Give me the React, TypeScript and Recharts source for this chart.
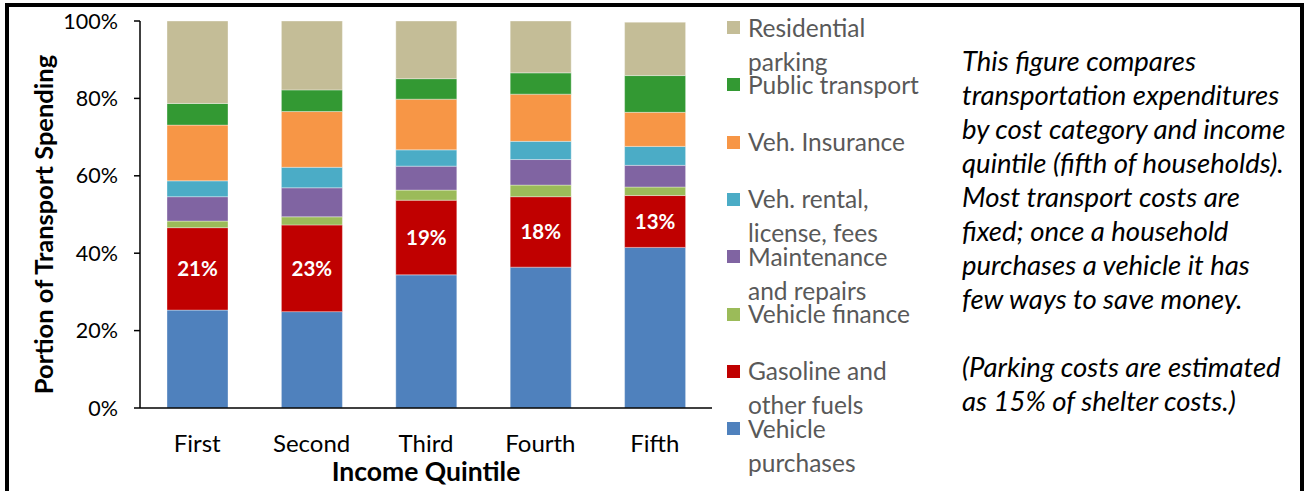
import { BarChart, Bar, XAxis, YAxis, Legend, LabelList } from 'recharts';

const quintiles = ['First', 'Second', 'Third', 'Fourth', 'Fifth'];

// share of transport spending (%) per quintile, bottom of stack first
const vehiclePurchases = [25.3, 24.9, 34.4, 36.4, 41.5];
const gasoline = [21.3, 22.4, 19.3, 18.2, 13.4];
const vehicleFinance = [1.7, 2.1, 2.6, 3.0, 2.2];
const maintenance = [6.3, 7.5, 6.2, 6.6, 5.6];
const rental = [4.1, 5.3, 4.2, 4.7, 4.9];
const insurance = [14.4, 14.4, 13.1, 12.2, 8.8];
const publicTransport = [5.6, 5.6, 5.3, 5.5, 9.5];
const parking = [21.3, 17.8, 14.9, 13.4, 13.8];

const gasLabels = ['21%', '23%', '19%', '18%', '13%'];
const yTicks = [0, 20, 40, 60, 80, 100];

const series = [
  { key: 'purchases', name: 'Vehicle purchases', color: '#4F81BD', values: vehiclePurchases, lines: ['Vehicle', 'purchases'] },
  { key: 'gasoline', name: 'Gasoline and other fuels', color: '#C00000', values: gasoline, lines: ['Gasoline and', 'other fuels'] },
  { key: 'finance', name: 'Vehicle finance', color: '#9BBB59', values: vehicleFinance, lines: ['Vehicle finance'] },
  { key: 'maintenance', name: 'Maintenance and repairs', color: '#8064A2', values: maintenance, lines: ['Maintenance', 'and repairs'] },
  { key: 'rental', name: 'Veh. rental, license, fees', color: '#4BACC6', values: rental, lines: ['Veh. rental,', 'license, fees'] },
  { key: 'insurance', name: 'Veh. Insurance', color: '#F79646', values: insurance, lines: ['Veh. Insurance'] },
  { key: 'publicTransport', name: 'Public transport', color: '#339933', values: publicTransport, lines: ['Public transport'] },
  { key: 'parking', name: 'Residential parking', color: '#C4BD97', values: parking, lines: ['Residential', 'parking'] },
];

const data = quintiles.map((q, i) => {
  const row: Record<string, string | number> = { quintile: q, gasLabel: gasLabels[i] };
  series.forEach((s) => {
    row[s.key] = s.values[i];
  });
  return row;
});

const noteLines = [
  'This figure compares',
  'transportation expenditures',
  'by cost category and income',
  'quintile (fifth of households).',
  'Most transport costs are',
  'fixed; once a household',
  'purchases a vehicle it has',
  'few ways to save money.',
  '',
  '(Parking costs are estimated',
  'as 15% of shelter costs.)',
];

const FONT = 'Lato, "Open Sans", sans-serif';

const renderLegend = () => {
  const items = [...series].reverse();
  return (
    <div style={{ position: 'relative', width: 200, height: 480, fontFamily: FONT }}>
      {items.map((s, i) => (
        <div key={s.key} style={{ position: 'absolute', left: 0, top: i * 57.3 }}>
          <div style={{ position: 'absolute', left: 7, top: 10, width: 13, height: 13, background: s.color }} />
          {s.lines.map((l, j) => (
            <div
              key={l}
              style={{
                position: 'absolute',
                left: 28,
                top: 5.5 + j * 34,
                height: 22,
                whiteSpace: 'nowrap',
                fontSize: 24.5,
                lineHeight: '22px',
                color: '#595959',
              }}
            >
              {l}
            </div>
          ))}
        </div>
      ))}
    </div>
  );
};

const YLabel = (props: any) => {
  const { viewBox } = props;
  const x = viewBox.x + 43;
  const y = viewBox.y + viewBox.height / 2 + 10;
  return (
    <text
      transform={`translate(${x},${y}) rotate(-90)`}
      textAnchor="middle"
      dominantBaseline="central"
      fontFamily={FONT}
      fontWeight={700}
      fontSize={25.5}
      fill="#000"
    >
      Portion of Transport Spending
    </text>
  );
};

export default function App() {
  return (
    <div style={{ position: 'fixed', left: 0, top: 0, width: 1308, height: 491, background: '#fff', overflow: 'hidden' }}>
      <div
        style={{
          position: 'absolute',
          left: 5,
          top: 3,
          width: 1291,
          height: 500,
          borderTop: '4px solid #000',
          borderLeft: '4px solid #000',
          borderRight: '4px solid #000',
        }}
      />
      <BarChart
        width={1308}
        height={491}
        data={data}
        margin={{ top: 21, right: 596, bottom: 0, left: 0 }}
        barSize={61}
        style={{ position: 'absolute', left: 0, top: 0 }}
      >
        <XAxis
          dataKey="quintile"
          height={83}
          tickLine={false}
          tickSize={0}
          tickMargin={27}
          axisLine={{ stroke: '#000', strokeWidth: 1.5 }}
          tick={{ fill: '#000', fontSize: 24, fontFamily: FONT }}
          label={{ value: 'Income Quintile', position: 'insideBottom', offset: 10, fill: '#000', fontSize: 26.5, fontWeight: 700, fontFamily: FONT }}
        />
        <YAxis
          width={140}
          domain={[0, 100]}
          ticks={yTicks}
          tickFormatter={(v: number) => `${v}%`}
          tickSize={6}
          tickMargin={16}
          axisLine={{ stroke: '#000', strokeWidth: 1.5 }}
          tickLine={{ stroke: '#000', strokeWidth: 1.5 }}
          tick={{ fill: '#000', fontSize: 21.5, fontFamily: FONT }}
          label={<YLabel />}
        />
        <Legend
          layout="vertical"
          align="center"
          verticalAlign="middle"
          content={renderLegend}
          wrapperStyle={{ position: 'absolute', left: 720, top: 11, width: 200, height: 480 }}
        />
        {series.map((s) => (
          <Bar
            key={s.key}
            dataKey={s.key}
            name={s.name}
            stackId="a"
            fill={s.color}
            stroke="#ffffff"
            strokeOpacity={0.35}
            strokeWidth={1}
            isAnimationActive={false}
          >
            {s.key === 'gasoline' && (
              <LabelList
                dataKey="gasLabel"
                position="center"
                fill="#ffffff"
                fontSize={20.5}
                fontWeight={700}
                fontFamily={FONT}
              />
            )}
          </Bar>
        ))}
      </BarChart>
      <div
        style={{
          position: 'absolute',
          left: 962,
          top: 44,
          fontFamily: FONT,
          fontStyle: 'italic',
          fontSize: 27.5,
          lineHeight: '34px',
          color: '#000',
          whiteSpace: 'pre',
        }}
      >
        {noteLines.map((l, i) => (
          <div key={i} style={{ height: 34 }}>{l}</div>
        ))}
      </div>
    </div>
  );
}
